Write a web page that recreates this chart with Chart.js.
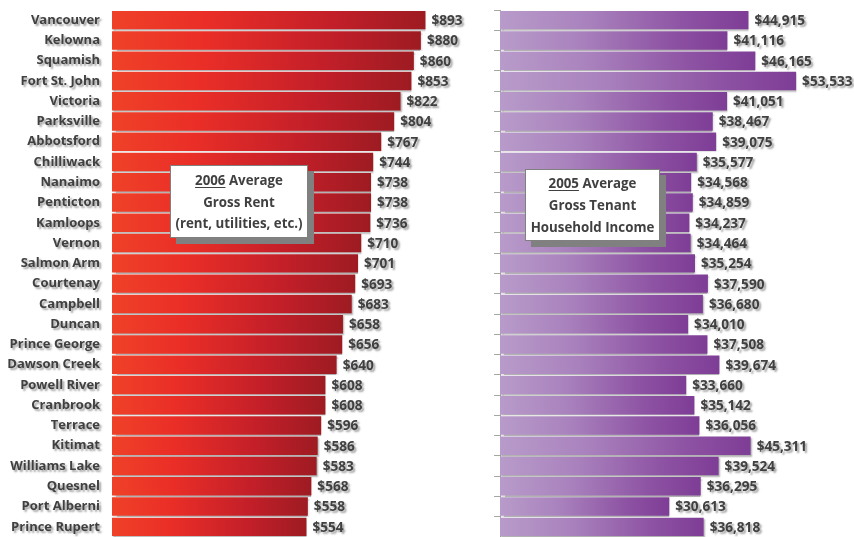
<!DOCTYPE html>
<html>
<head>
<meta charset="utf-8">
<script src="https://cdn.jsdelivr.net/npm/chart.js@4.4.1/dist/chart.umd.min.js"></script>
<style>
  html, body { margin:0; padding:0; background:#fff; }
  body { width:854px; height:537px; position:relative; overflow:hidden; font-family: "Open Sans", Lato, sans-serif; }
  .wrap { position:absolute; top:0; }
  .box { position:absolute; background:#fff; border:1px solid #808080; box-shadow:6px 6px 0 #808080;
         text-align:center; font-weight:bold; font-size:13.3px; color:#404040; box-sizing:border-box; white-space:nowrap; }
  .box div { line-height:21.5px; }
  .box u { text-underline-offset:2px; }
</style>
</head>
<body>
<div class="wrap" style="left:0;width:480px;height:537px;"><canvas id="rent"></canvas></div>
<div class="wrap" style="left:480px;width:374px;height:537px;"><canvas id="income"></canvas></div>
<div class="box" style="left:170px;top:165px;width:138px;height:73px;padding-top:4px;">
  <div><u>2006</u> Average</div><div>Gross Rent</div><div>(rent, utilities, etc.)</div>
</div>
<div class="box" style="left:525px;top:169px;width:135px;height:72px;padding-top:2px;">
  <div style="line-height:22px"><u>2005</u> Average</div><div style="line-height:22px">Gross Tenant</div><div style="line-height:22px">Household Income</div>
</div>
<script>
const cities = ["Vancouver","Kelowna","Squamish","Fort St. John","Victoria","Parksville","Abbotsford","Chilliwack","Nanaimo","Penticton","Kamloops","Vernon","Salmon Arm","Courtenay","Campbell","Duncan","Prince George","Dawson Creek","Powell River","Cranbrook","Terrace","Kitimat","Williams Lake","Quesnel","Port Alberni","Prince Rupert"];
const rent2006 = [893,880,860,853,822,804,767,744,738,738,736,710,701,693,683,658,656,640,608,608,596,586,583,568,558,554];
const income2005 = [44915,41116,46165,53533,41051,38467,39075,35577,34568,34859,34237,34464,35254,37590,36680,34010,37508,39674,33660,35142,36056,45311,39524,36295,30613,36818];

const LABEL_COLOR = '#404040';
const FONT = '"Open Sans", Lato, sans-serif';

function gradFor(stops) {
  return (c) => {
    const chart = c.chart;
    if (!chart.chartArea || c.raw == null) return stops[0][1];
    const xs = chart.scales.x;
    const x0 = xs.getPixelForValue(0), x1 = xs.getPixelForValue(c.raw);
    const g = chart.ctx.createLinearGradient(x0, 0, x1, 0);
    stops.forEach(s => g.addColorStop(s[0], s[1]));
    return g;
  };
}

const shadowPlugin = {
  id: 'shadows',
  beforeDraw(chart) {
    const ys = chart.scales.y;
    if (ys && !ys._shadowWrapped) {
      const orig = ys.drawLabels.bind(ys);
      ys.drawLabels = function(ca) {
        const ctx = chart.ctx;
        ctx.save();
        ctx.shadowColor = 'rgba(0,0,0,0.38)';
        ctx.shadowOffsetX = 2; ctx.shadowOffsetY = 2; ctx.shadowBlur = 2;
        orig(ca);
        ctx.restore();
      };
      ys._shadowWrapped = true;
    }
  },
  beforeDatasetsDraw(chart) {
    const ctx = chart.ctx;
    ctx.save();
    ctx.shadowColor = 'rgba(0,0,0,0.3)';
    ctx.shadowOffsetX = 1; ctx.shadowOffsetY = 1.5; ctx.shadowBlur = 1.5;
  },
  afterDatasetsDraw(chart, args, opts) {
    const ctx = chart.ctx;
    ctx.restore();
    const meta = chart.getDatasetMeta(0);
    const data = chart.data.datasets[0].data;
    ctx.save();
    ctx.font = 'bold 13.6px ' + FONT;
    ctx.fillStyle = LABEL_COLOR;
    ctx.textAlign = 'left';
    ctx.textBaseline = 'middle';
    ctx.shadowColor = 'rgba(0,0,0,0.38)';
    ctx.shadowOffsetX = 2; ctx.shadowOffsetY = 2; ctx.shadowBlur = 2;
    meta.data.forEach((bar, i) => {
      ctx.fillText(opts.fmt(data[i]), bar.x + 6, bar.y + 1);
    });
    ctx.restore();
  }
};

function makeChart(id, values, max, stops, yWidth, rightPad, showAxis, fmt) {
  return new Chart(document.getElementById(id), {
    type: 'bar',
    data: { labels: cities, datasets: [{ data: values, backgroundColor: gradFor(stops), borderWidth: 0, barPercentage: 0.91, categoryPercentage: 1 }] },
    options: {
      indexAxis: 'y',
      responsive: true,
      maintainAspectRatio: false,
      animation: false,
      layout: { padding: { top: 10, bottom: 0, left: 0, right: rightPad } },
      plugins: { legend: { display: false }, tooltip: { enabled: false }, shadows: { fmt } },
      scales: {
        x: { display: false, min: 0, max: max },
        y: {
          afterFit: (s) => { s.width = yWidth; s.paddingTop = 0; s.paddingBottom = 0; },
          grid: { display: showAxis, drawOnChartArea: false, drawTicks: showAxis, tickLength: 6, offset: true, color: '#a6a6a6' },
          border: { display: showAxis, color: '#a6a6a6' },
          ticks: { display: !showAxis, color: LABEL_COLOR, padding: 12, font: { family: FONT, size: 13, weight: 'bold' } }
        }
      }
    },
    plugins: [shadowPlugin]
  });
}

makeChart('rent', rent2006, 1000,
  [[0, '#ef4128'], [0.3, '#ea2e27'], [0.7, '#c31f29'], [1, '#9e1b22']],
  112, 17, false, v => '$' + v);
makeChart('income', income2005, 64000,
  [[0, '#b89bca'], [0.35, '#a982bd'], [0.75, '#8d52a3'], [1, '#7e3d96']],
  20, 0, true, v => '$' + v.toLocaleString('en-US'));
</script>
</body>
</html>
